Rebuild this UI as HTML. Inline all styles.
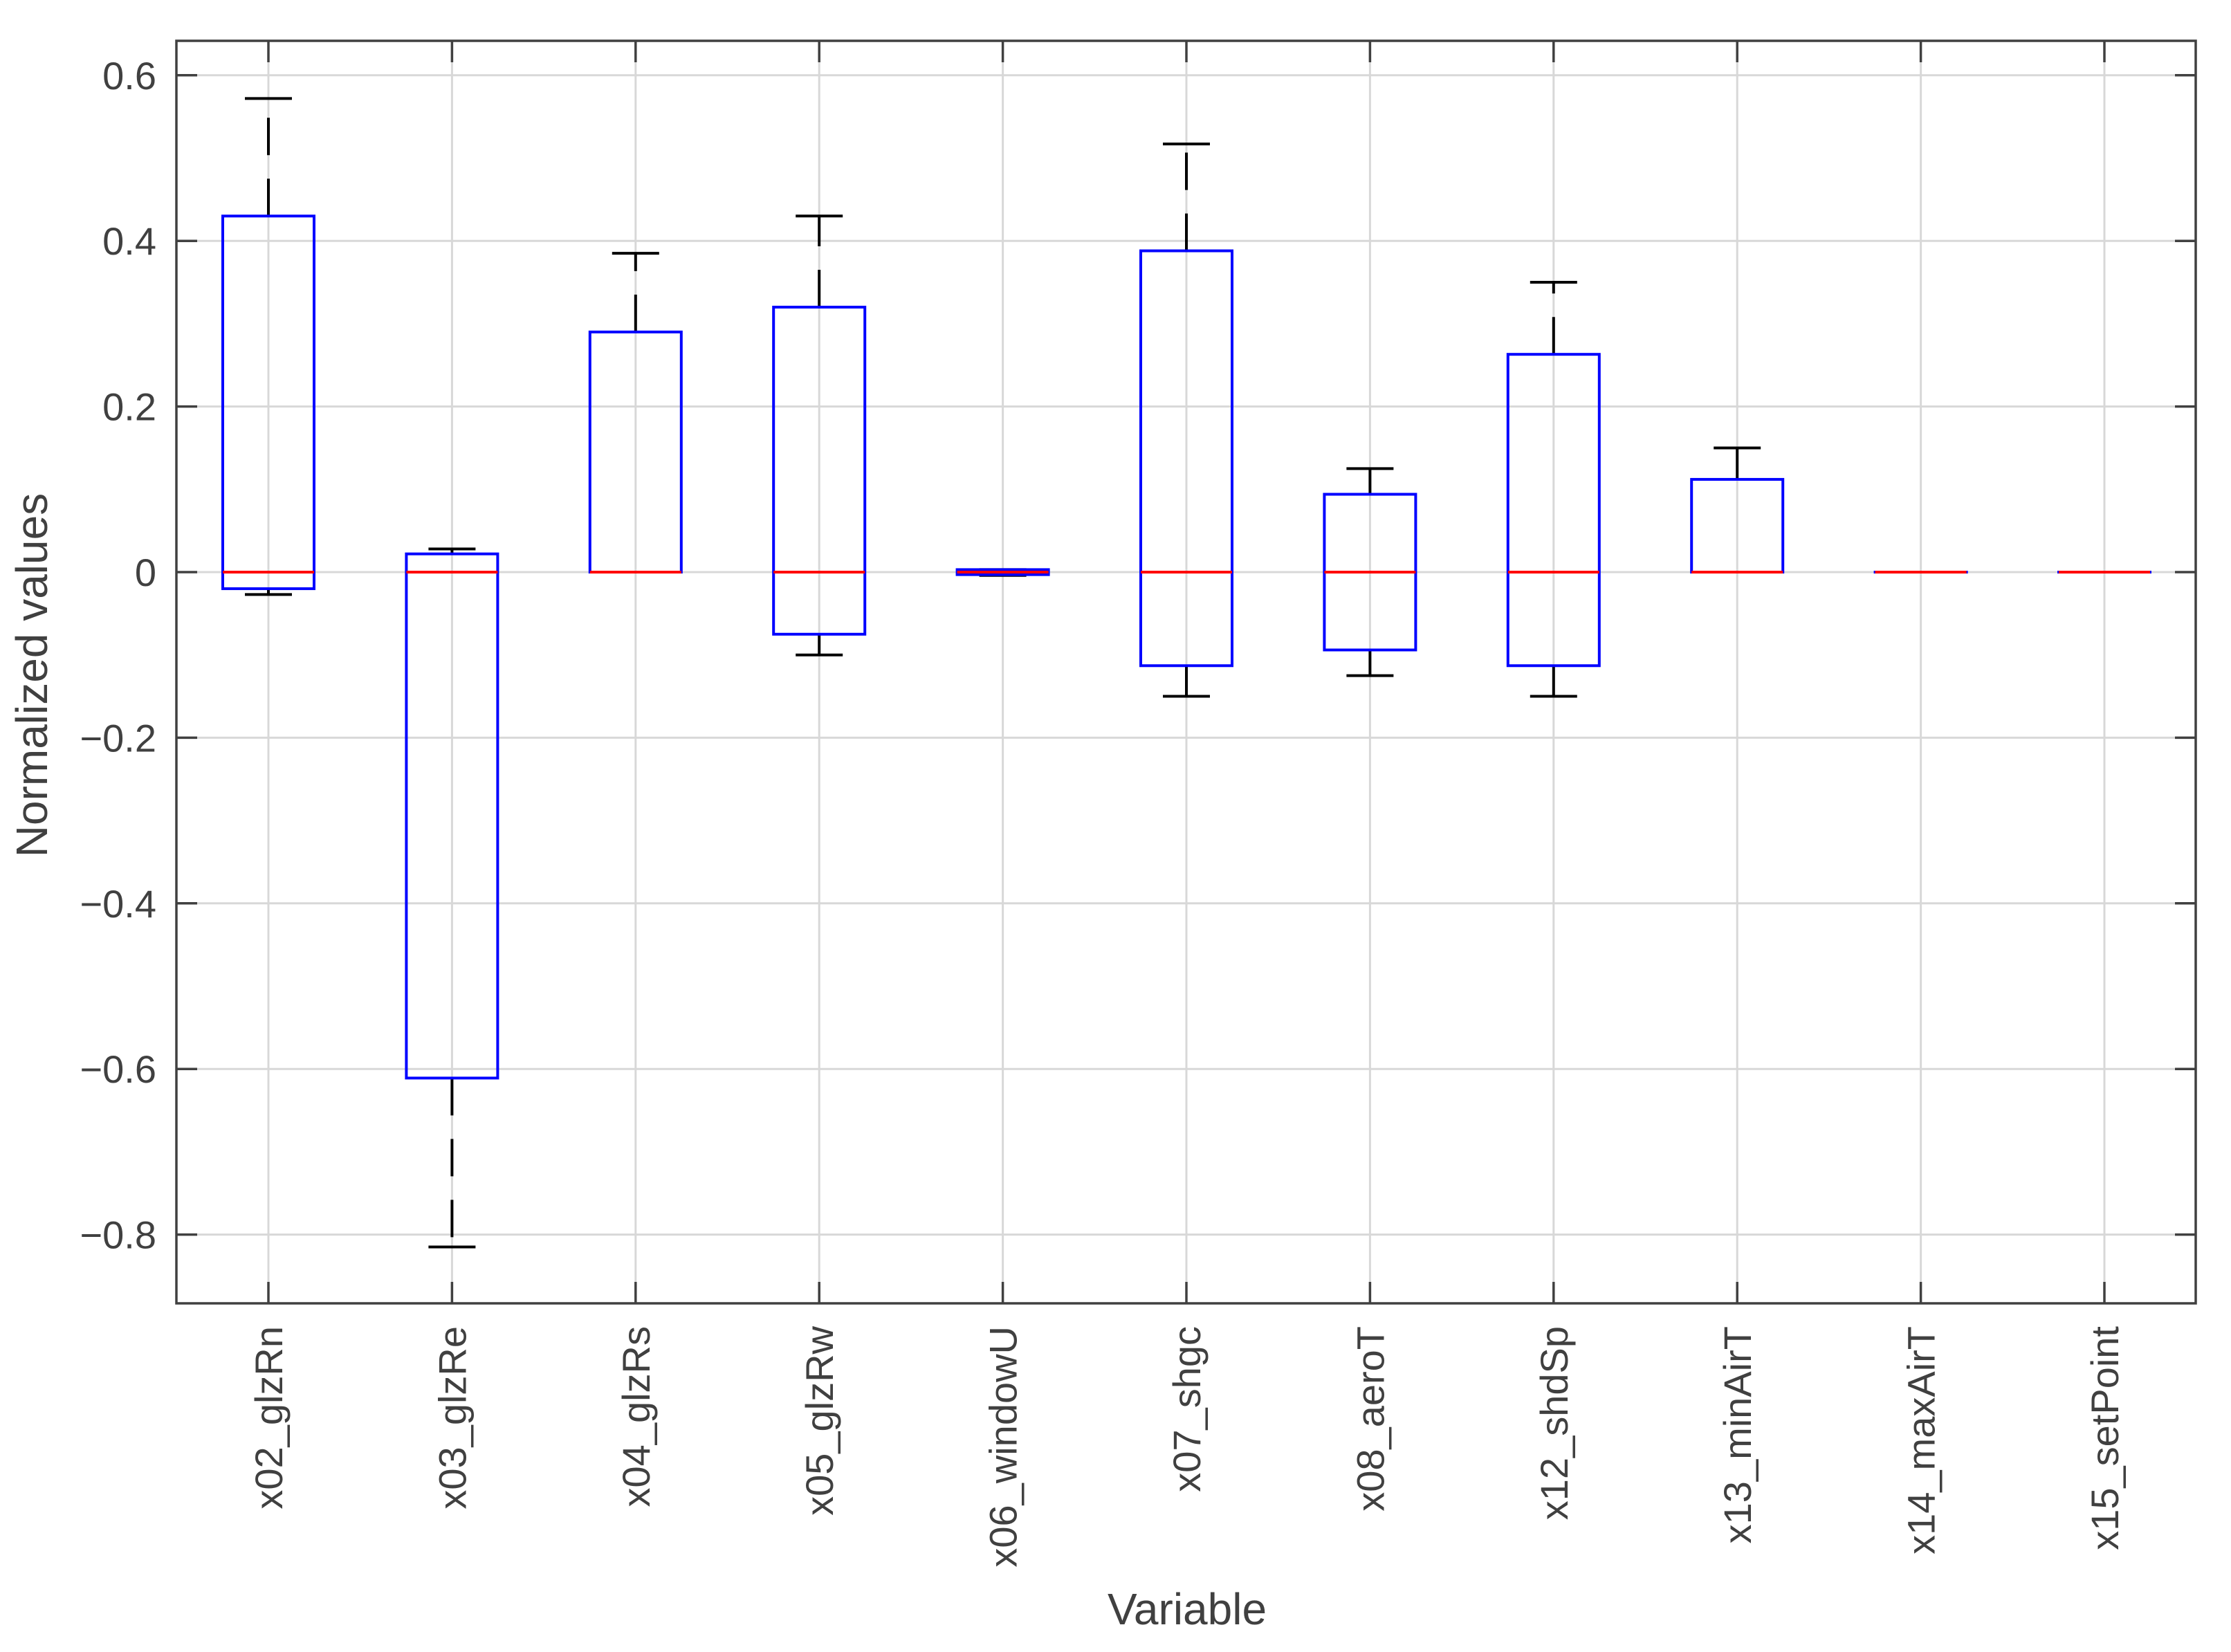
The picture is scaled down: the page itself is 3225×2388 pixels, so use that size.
<!DOCTYPE html>
<html><head><meta charset="utf-8"><style>
html,body{margin:0;padding:0;background:#fff;}
svg{display:block;font-family:"Liberation Sans",Arial,sans-serif;}
</style></head><body>
<svg id="chart" width="3225" height="2388" viewBox="0 0 3225 2388" xmlns="http://www.w3.org/2000/svg">
<rect x="0" y="0" width="3225" height="2388" fill="#fff"/>
<g id="grid"></g>
<g id="boxes"></g>
<g id="axes"></g>
<text x="68" y="976" font-size="64" fill="#404040" text-anchor="middle" transform="rotate(-90 68 976)">Normalized values</text>
<text x="1716" y="2362" font-size="64" fill="#404040" text-anchor="middle" transform="translate(0,-14)">Variable</text>
</svg>
<script>
const categories = ["x02_glzRn","x03_glzRe","x04_glzRs","x05_glzRw","x06_windowU","x07_shgc","x08_aeroT","x12_shdSp","x13_minAirT","x14_maxAirT","x15_setPoint"];
const whiskerLow = [-0.027,-0.815,0,-0.1,-0.004,-0.15,-0.125,-0.15,0,0,0];
const q1Values = [-0.02,-0.611,0,-0.075,-0.003,-0.113,-0.094,-0.113,0,0,0];
const medianValues = [0,0,0,0,0,0,0,0,0,0,0];
const q3Values = [0.43,0.022,0.29,0.32,0.003,0.388,0.094,0.263,0.112,0,0];
const whiskerHigh = [0.572,0.028,0.385,0.43,0.003,0.517,0.125,0.35,0.15,0,0];
const yTicks = [-0.8,-0.6,-0.4,-0.2,0,0.2,0.4,0.6];

const L=255,R=3174,T=59,B=1884;
const NS="http://www.w3.org/2000/svg";
function yS(v){return 827 - v*1197;}
function xS(i){return 388 + i*265.4;}
function mk(tag,attrs,parent){const e=document.createElementNS(NS,tag);for(const k in attrs)e.setAttribute(k,attrs[k]);parent.appendChild(e);return e;}
const grid=document.getElementById('grid'),boxes=document.getElementById('boxes'),axes=document.getElementById('axes');

yTicks.forEach(v=>{
  const l=mk('line',{x1:L,x2:R,y1:yS(v),y2:yS(v),stroke:'#d8d8d8','stroke-width':3},grid);
  
  
});
categories.forEach((c,i)=>{
  const l=mk('line',{x1:xS(i),x2:xS(i),y1:T,y2:B,stroke:'#d8d8d8','stroke-width':3},grid);
  
  
});

const hw=66,cw=34;
categories.forEach((c,i)=>{
  const g=mk('g',{},boxes);
  
  
  const x=xS(i);
  if(whiskerHigh[i]>q3Values[i]){
    const w=mk('line',{x1:x,x2:x,y1:yS(q3Values[i]),y2:yS(whiskerHigh[i]),stroke:'#000','stroke-width':4,'stroke-dasharray':'54 34'},g);
    
    
  }
  if(whiskerLow[i]<q1Values[i]){
    const w=mk('line',{x1:x,x2:x,y1:yS(q1Values[i]),y2:yS(whiskerLow[i]),stroke:'#000','stroke-width':4,'stroke-dasharray':'54 34'},g);
    
    
  }
  const c1=mk('line',{x1:x-cw,x2:x+cw,y1:yS(whiskerHigh[i]),y2:yS(whiskerHigh[i]),stroke:'#000','stroke-width':4},g);
  
  
  const c2=mk('line',{x1:x-cw,x2:x+cw,y1:yS(whiskerLow[i]),y2:yS(whiskerLow[i]),stroke:'#000','stroke-width':4},g);
  
  
  const top=yS(q3Values[i]),bot=yS(q1Values[i]);
  const r=mk('rect',{x:x-hw,y:top,width:2*hw,height:Math.max(bot-top,0.01),fill:'none',stroke:'#0000ff','stroke-width':4},g);
  
  
  const m=mk('line',{x1:x-hw,x2:x+hw,y1:yS(medianValues[i]),y2:yS(medianValues[i]),stroke:'#ff0000','stroke-width':4},g);
  
  
});

const frame=mk('rect',{x:L,y:T,width:R-L,height:B-T,fill:'none',stroke:'#404040','stroke-width':3.5},axes);


yTicks.forEach(v=>{
  const y=yS(v);
  mk('line',{x1:L,x2:L+30,y1:y,y2:y,stroke:'#404040','stroke-width':3.5},axes);
  mk('line',{x1:R,x2:R-30,y1:y,y2:y,stroke:'#404040','stroke-width':3.5},axes);
  const t=mk('text',{x:226,y:y+20,'font-size':56,fill:'#404040','text-anchor':'end'},axes);
  t.textContent=(v<0?'\u2212':'')+(v===0?'0':Math.abs(v).toFixed(1));
  
  
});
categories.forEach((c,i)=>{
  const x=xS(i);
  mk('line',{x1:x,x2:x,y1:B,y2:B-31,stroke:'#404040','stroke-width':3.5},axes);
  mk('line',{x1:x,x2:x,y1:T,y2:T+31,stroke:'#404040','stroke-width':3.5},axes);
  const t=mk('text',{x:x+20,y:1917,'font-size':56,fill:'#404040','text-anchor':'end',transform:'rotate(-90 '+(x+20)+' 1917)'},axes);
  t.textContent=c;
  
  
});
</script>
</body></html>
